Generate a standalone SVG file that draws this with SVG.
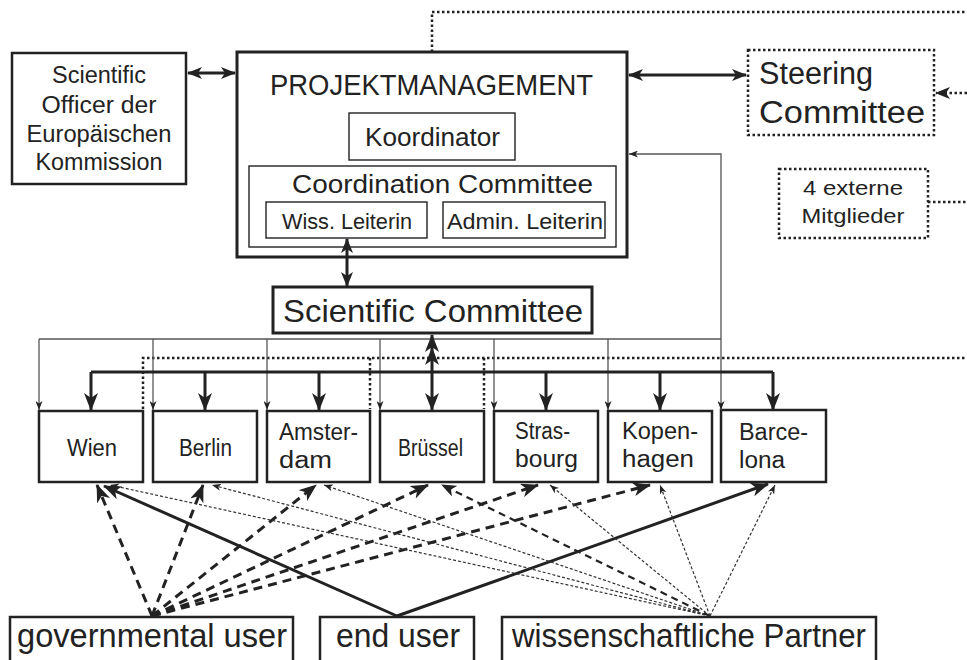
<svg xmlns="http://www.w3.org/2000/svg" width="967" height="660" viewBox="0 0 967 660">
<style>
.box{fill:#fff;stroke:#222;stroke-width:2.5}
.pm{fill:#fff;stroke:#222;stroke-width:3}
.inner{fill:#fff;stroke:#222;stroke-width:1.4}
.dotbox{fill:#fff;stroke:#222;stroke-width:2.5;stroke-dasharray:2.5 2.5}
.dot{fill:none;stroke:#222;stroke-width:2.5;stroke-dasharray:2.5 2.5}
.thick{fill:none;stroke:#222;stroke-width:3}
.thin{fill:none;stroke:#555;stroke-width:1.3}
.gdash{fill:none;stroke:#222;stroke-width:3;stroke-dasharray:9 6}
.wdash{fill:none;stroke:#333;stroke-width:1.2;stroke-dasharray:3 2}
.mdash{fill:none;stroke:#222;stroke-width:2.2;stroke-dasharray:7 5}
text{font-family:"Liberation Sans",Arial,sans-serif;fill:#222}
.c{text-anchor:middle}
</style>
<defs>
<marker id="ab" markerUnits="userSpaceOnUse" markerWidth="18" markerHeight="14" refX="17" refY="7" viewBox="0 0 18 14" orient="auto-start-reverse"><path d="M0,0 L18,7 L0,14 L5,7z" fill="#222"/></marker>
<marker id="am" markerUnits="userSpaceOnUse" markerWidth="15" markerHeight="12" refX="14" refY="6" viewBox="0 0 15 12" orient="auto-start-reverse"><path d="M0,0 L15,6 L0,12 L4,6z" fill="#222"/></marker>
<marker id="as" markerUnits="userSpaceOnUse" markerWidth="9" markerHeight="7" refX="9" refY="3.5" viewBox="0 0 9 7" orient="auto-start-reverse"><path d="M0,0 L9,3.5 L0,7 L2.5,3.5z" fill="#222"/></marker>
</defs>

<g id="officer">
<rect class="box" x="12" y="53" width="174" height="131"/>
<text class="c" x="99" y="83" font-size="23" textLength="94" lengthAdjust="spacingAndGlyphs">Scientific</text>
<text class="c" x="99" y="113" font-size="23" textLength="115" lengthAdjust="spacingAndGlyphs">Officer der</text>
<text class="c" x="99" y="142" font-size="23" textLength="145" lengthAdjust="spacingAndGlyphs">Europäischen</text>
<text class="c" x="99" y="170" font-size="23" textLength="127" lengthAdjust="spacingAndGlyphs">Kommission</text>
</g>

<g id="projektmanagement">
<rect class="pm" x="237" y="52" width="390" height="205"/>
<text x="270" y="95" font-size="30" textLength="323" lengthAdjust="spacingAndGlyphs">PROJEKTMANAGEMENT</text>
</g>
<g id="koordinator">
<rect class="inner" x="349" y="113" width="166" height="47"/>
<text x="365" y="146" font-size="25" textLength="135" lengthAdjust="spacingAndGlyphs">Koordinator</text>
</g>
<g id="coordination">
<rect class="inner" x="249" y="166" width="367" height="81"/>
<text x="292" y="193" font-size="25" textLength="301" lengthAdjust="spacingAndGlyphs">Coordination Committee</text>
</g>
<g id="wiss">
<rect class="inner" x="266" y="202" width="161" height="36"/>
<text x="282" y="229" font-size="22" textLength="130" lengthAdjust="spacingAndGlyphs">Wiss. Leiterin</text>
</g>
<g id="admin">
<rect class="inner" x="443" y="202" width="162" height="36"/>
<text x="447" y="229" font-size="22" textLength="156" lengthAdjust="spacingAndGlyphs">Admin. Leiterin</text>
</g>

<g id="scientific-committee">
<rect class="pm" x="273" y="287" width="319" height="46"/>
<text x="283" y="322" font-size="32" textLength="300" lengthAdjust="spacingAndGlyphs">Scientific Committee</text>
</g>

<g id="steering">
<rect class="dotbox" x="748" y="50" width="186" height="85"/>
<text x="759" y="84" font-size="31" textLength="114" lengthAdjust="spacingAndGlyphs">Steering</text>
<text x="759" y="123" font-size="31" textLength="166" lengthAdjust="spacingAndGlyphs">Committee</text>
</g>

<g id="externe">
<rect class="dotbox" x="779" y="169" width="149" height="69"/>
<text class="c" x="853" y="195" font-size="21" textLength="100" lengthAdjust="spacingAndGlyphs">4 externe</text>
<text class="c" x="853" y="223" font-size="21" textLength="103" lengthAdjust="spacingAndGlyphs">Mitglieder</text>
</g>

<g id="wien">
<rect class="box" x="39" y="411" width="104" height="71"/>
<text x="67" y="456" font-size="23" textLength="50" lengthAdjust="spacingAndGlyphs">Wien</text>
</g>
<g id="berlin">
<rect class="box" x="153" y="411" width="104" height="71"/>
<text x="179" y="456" font-size="23" textLength="53" lengthAdjust="spacingAndGlyphs">Berlin</text>
</g>
<g id="amsterdam">
<rect class="box" x="267" y="411" width="103" height="71"/>
<text x="279" y="440" font-size="23" textLength="79" lengthAdjust="spacingAndGlyphs">Amster-</text>
<text x="279" y="468" font-size="23" textLength="53" lengthAdjust="spacingAndGlyphs">dam</text>
</g>
<g id="bruessel">
<rect class="box" x="380" y="411" width="104" height="71"/>
<text x="398" y="456" font-size="23" textLength="65" lengthAdjust="spacingAndGlyphs">Brüssel</text>
</g>
<g id="strasbourg">
<rect class="box" x="494" y="411" width="104" height="71"/>
<text x="515" y="439" font-size="23" textLength="55" lengthAdjust="spacingAndGlyphs">Stras-</text>
<text x="515" y="467" font-size="23" textLength="63" lengthAdjust="spacingAndGlyphs">bourg</text>
</g>
<g id="kopenhagen">
<rect class="box" x="608" y="411" width="104" height="71"/>
<text x="622" y="439" font-size="23" textLength="76" lengthAdjust="spacingAndGlyphs">Kopen-</text>
<text x="622" y="467" font-size="23" textLength="72" lengthAdjust="spacingAndGlyphs">hagen</text>
</g>
<g id="barcelona">
<rect class="box" x="721" y="410" width="105" height="72"/>
<text x="739" y="440" font-size="23" textLength="69" lengthAdjust="spacingAndGlyphs">Barce-</text>
<text x="739" y="468" font-size="23" textLength="46" lengthAdjust="spacingAndGlyphs">lona</text>
</g>

<g id="governmental-user">
<rect class="box" x="10" y="617" width="283" height="60"/>
<text x="17" y="647" font-size="33" textLength="270" lengthAdjust="spacingAndGlyphs">governmental user</text>
</g>
<g id="end-user">
<rect class="box" x="320" y="617" width="154" height="60"/>
<text x="336" y="647" font-size="33" textLength="124" lengthAdjust="spacingAndGlyphs">end user</text>
</g>
<g id="wiss-partner">
<rect class="box" x="502" y="617" width="374" height="60"/>
<text x="512" y="647" font-size="33" textLength="354" lengthAdjust="spacingAndGlyphs">wissenschaftliche Partner</text>
</g>

<g id="connectors">
<path class="thick" d="M188,73 H235" marker-start="url(#am)" marker-end="url(#am)"/>
<path class="thick" d="M629,75 H746" marker-start="url(#am)" marker-end="url(#am)"/>
<path class="thick" d="M347,239 V286" marker-start="url(#am)" marker-end="url(#am)"/>
<path class="dot" d="M432,52 V12 H967"/>
<path class="dot" d="M967,93 H936" marker-end="url(#am)"/>
<path class="dot" d="M928,202 H967"/>
<path class="dot" d="M143,409 V358 H967"/>
<path class="dot" d="M370,358 V409"/>
<path class="dot" d="M484,358 V409"/>
<path class="thin" d="M629,154 H721 V410" marker-start="url(#as)" marker-end="url(#as)"/>
<path class="thin" d="M39,339 H721"/>
<path class="thin" d="M39,339 V410" marker-end="url(#as)"/>
<path class="thin" d="M153,339 V410" marker-end="url(#as)"/>
<path class="thin" d="M267,339 V410" marker-end="url(#as)"/>
<path class="thin" d="M380,339 V410" marker-end="url(#as)"/>
<path class="thin" d="M494,339 V410" marker-end="url(#as)"/>
<path class="thin" d="M608,339 V410" marker-end="url(#as)"/>
<path class="thick" d="M91,372 H773"/>
<path class="thick" d="M91,372 V410" marker-end="url(#ab)"/>
<path class="thick" d="M205,372 V410" marker-end="url(#ab)"/>
<path class="thick" d="M319,372 V410" marker-end="url(#ab)"/>
<path class="thick" d="M546,372 V410" marker-end="url(#ab)"/>
<path class="thick" d="M660,372 V410" marker-end="url(#ab)"/>
<path class="thick" d="M773,372 V410" marker-end="url(#ab)"/>
<path class="thick" d="M432,410 V348 V335" marker-start="url(#ab)" marker-mid="url(#ab)" marker-end="url(#ab)"/>
<path class="gdash" d="M152,616 L97,485" marker-end="url(#ab)"/>
<path class="gdash" d="M152,616 L203,485" marker-end="url(#ab)"/>
<path class="gdash" d="M152,616 L316,485" marker-end="url(#ab)"/>
<path class="gdash" d="M152,616 L428,485" marker-end="url(#ab)"/>
<path class="gdash" d="M152,616 L538,485" marker-end="url(#ab)"/>
<path class="gdash" d="M152,616 L650,485" marker-end="url(#ab)"/>
<path class="thick" d="M397,616 L104,486" marker-end="url(#ab)"/>
<path class="thick" d="M397,616 L768,484" marker-end="url(#ab)"/>
<path class="wdash" d="M710,616 L110,485" marker-end="url(#as)"/>
<path class="wdash" d="M710,616 L212,485" marker-end="url(#as)"/>
<path class="wdash" d="M710,616 L324,485" marker-end="url(#as)"/>
<path class="mdash" d="M710,616 L442,485" marker-end="url(#am)"/>
<path class="wdash" d="M710,616 L550,485" marker-end="url(#as)"/>
<path class="wdash" d="M710,616 L660,485" marker-end="url(#as)"/>
<path class="wdash" d="M710,616 L775,485" marker-end="url(#as)"/>
</g>
</svg>
